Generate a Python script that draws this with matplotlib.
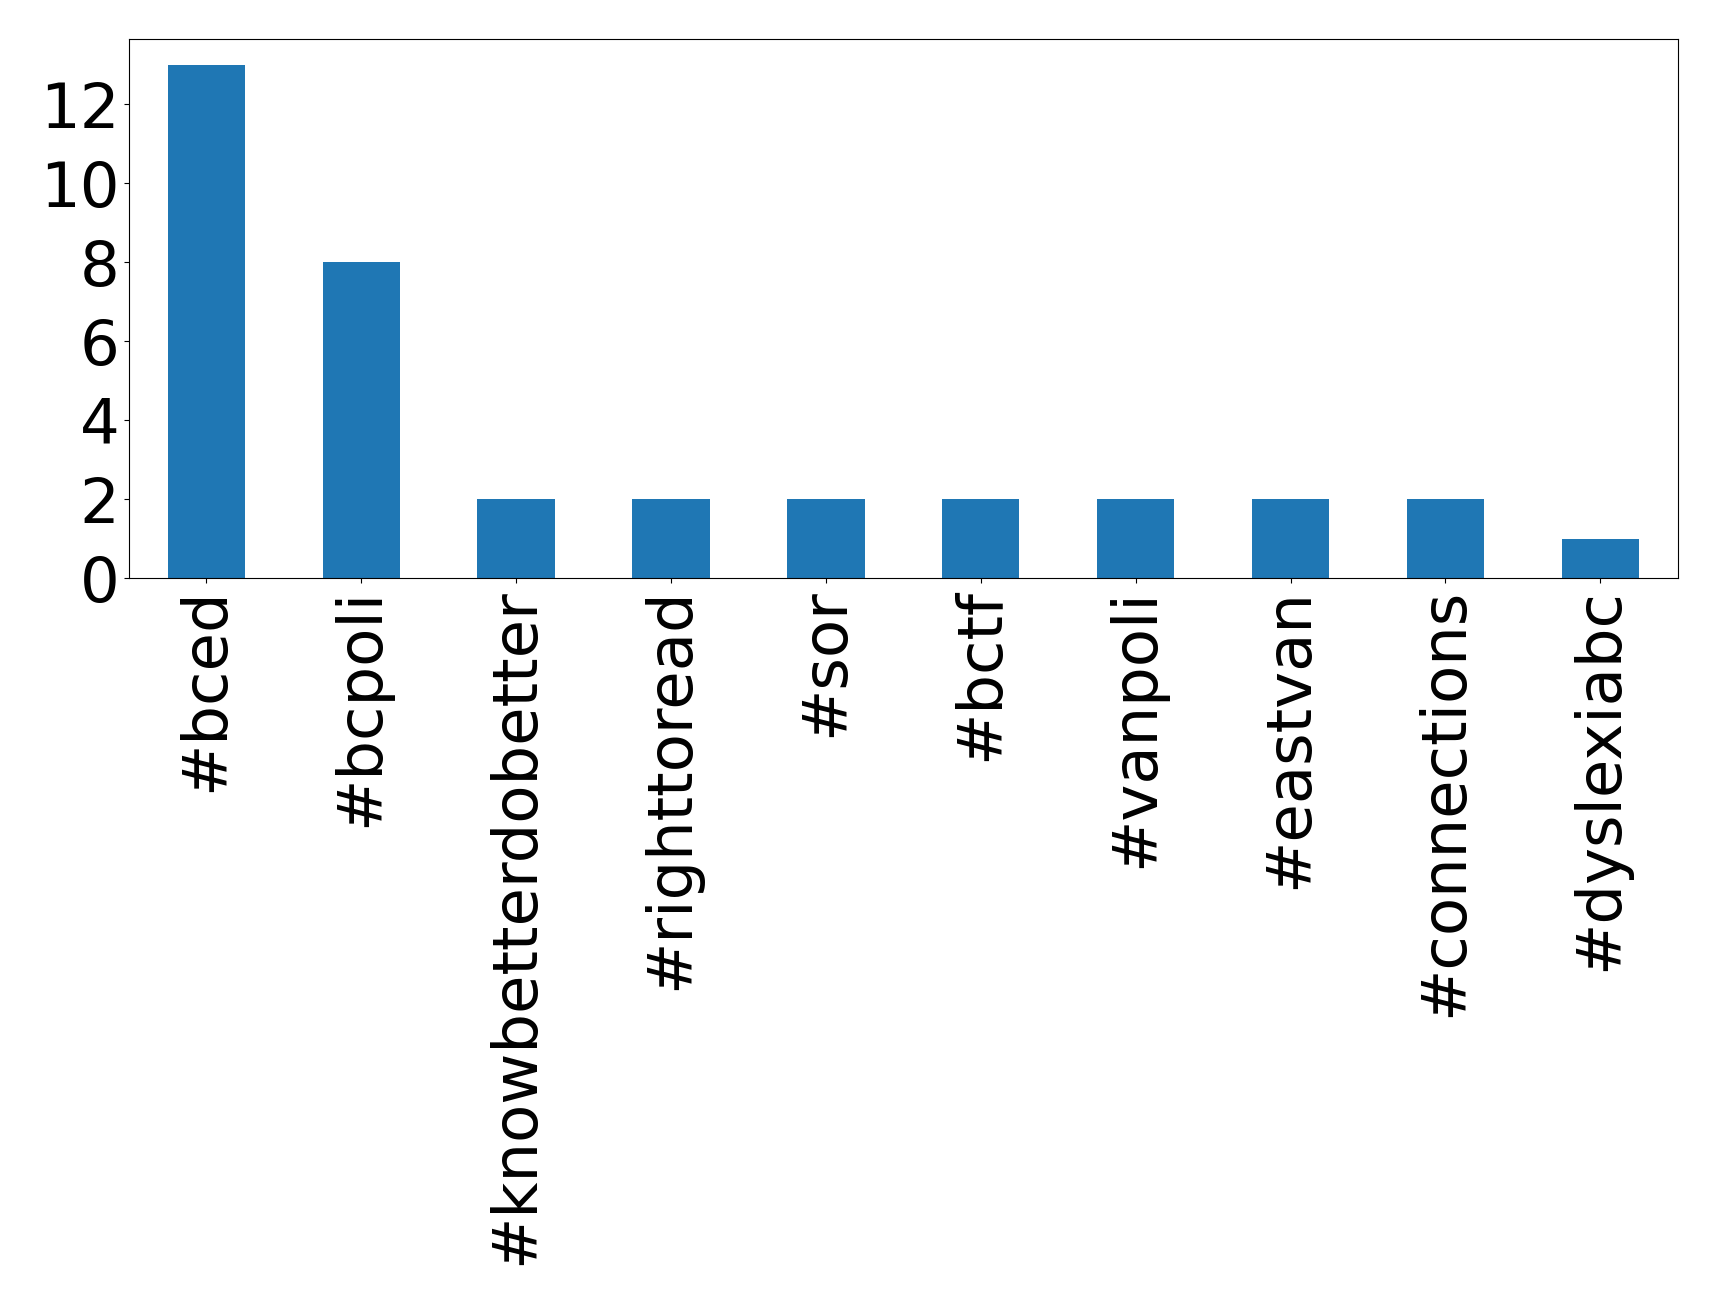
import matplotlib
matplotlib.use('Agg')
import matplotlib.pyplot as plt
import pandas as pd

hashtags = ['#bced', '#bcpoli', '#knowbetterdobetter', '#righttoread', '#sor',
            '#bctf', '#vanpoli', '#eastvan', '#connections', '#dyslexiabc']
counts = [13, 8, 2, 2, 2, 2, 2, 2, 2, 1]

s = pd.Series(counts, index=hashtags)

fig, ax = plt.subplots(figsize=(17.19, 13.05), dpi=100)
s.plot(kind='bar', ax=ax, fontsize=45)
fig.subplots_adjust(left=0.075, right=0.976, top=0.970, bottom=0.557)
fig.savefig('out.png', dpi=100)
